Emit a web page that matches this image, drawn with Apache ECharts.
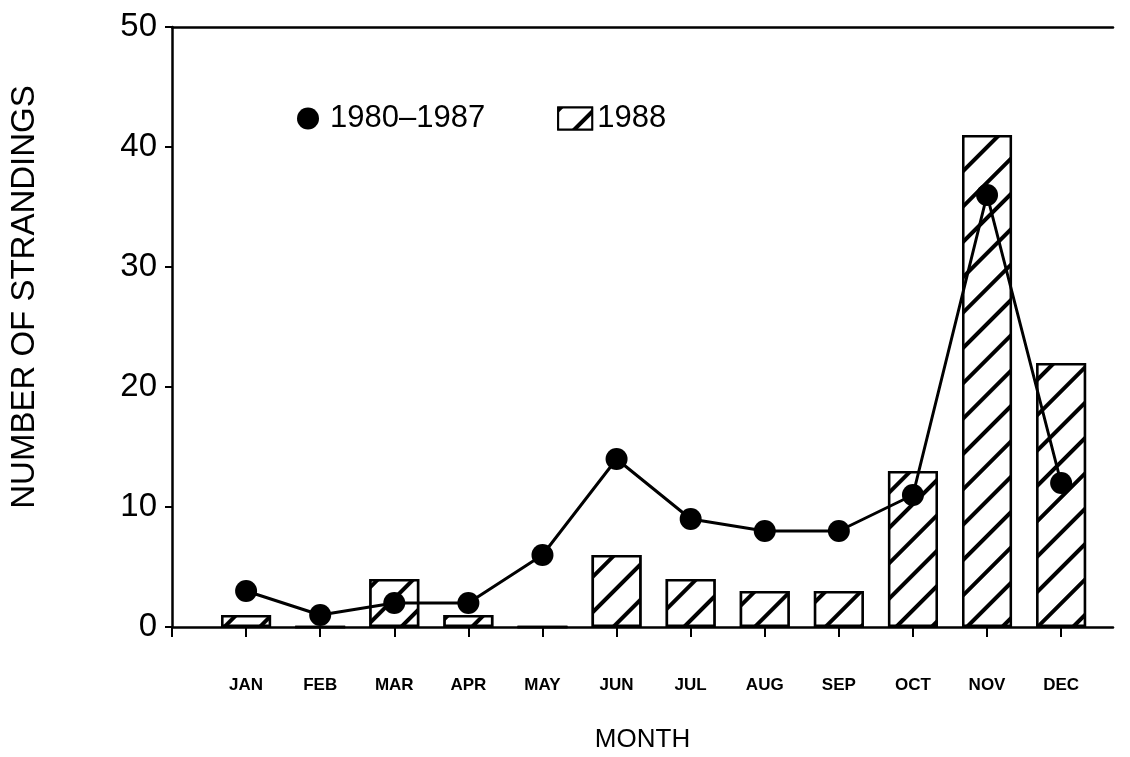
<!DOCTYPE html>
<html>
<head>
<meta charset="utf-8">
<title>Monthly strandings</title>
<script src="https://cdn.jsdelivr.net/npm/echarts@6/dist/echarts.min.js"></script>
<style>
  html, body { margin: 0; padding: 0; background: #fff; }
  #chart { width: 1130px; height: 757px; }
</style>
</head>
<body>
<div id="chart"></div>
<script>
// Month labels along the x axis
const months = ['JAN', 'FEB', 'MAR', 'APR', 'MAY', 'JUN', 'JUL', 'AUG', 'SEP', 'OCT', 'NOV', 'DEC'];
// Strandings per month, 1980-1987 (points + line)
const strandings1980to1987 = [3, 1, 2, 2, 6, 14, 9, 8, 8, 11, 36, 12];
// Strandings per month, 1988 (hatched bars)
const strandings1988 = [1, 0, 4, 1, 0, 6, 4, 3, 3, 13, 41, 22];
// Y axis tick values
const yTicks = [0, 10, 20, 30, 40, 50];

const INK = '#000';
const sans = "'Liberation Sans', Arial, sans-serif";
const narrow = "'Liberation Sans Narrow', 'Arial Narrow', 'Liberation Sans', sans-serif";

// months sit at positions 1..12 on a numeric axis that starts at the y axis
const monthPos = months.map((m, i) => i + 1);

// diagonal "/" hatching used for the 1988 bars
const hatch = {
  symbol: 'rect',
  symbolSize: 1,
  dashArrayX: [1, 0],
  dashArrayY: [3.5, 20.5],
  rotation: -Math.PI / 4,
  color: INK,
  backgroundColor: '#fff'
};

const chart = echarts.init(document.getElementById('chart'), null, { renderer: 'canvas' });

chart.setOption({
  backgroundColor: '#fff',
  animation: false,
  grid: { left: 172, right: 17, top: 27, bottom: 130, containLabel: false, outerBoundsMode: 'none' },
  legend: {
    left: 292,
    top: 98,
    itemGap: 72,
    itemWidth: 34,
    itemHeight: 22,
    textStyle: { fontFamily: sans, fontSize: 31, color: INK },
    data: [
      { name: '1980–1987', icon: 'circle', itemStyle: { color: INK } },
      { name: '1988', icon: 'rect' }
    ]
  },
  xAxis: [
    {
      type: 'value',
      min: 0,
      max: 12.7,
      interval: 1,
      name: 'MONTH',
      nameLocation: 'middle',
      nameGap: 100,
      nameTextStyle: { fontFamily: sans, fontSize: 26, color: INK },
      splitLine: { show: false },
      axisLine: { show: true, onZero: false, lineStyle: { color: INK, width: 2.5 } },
      axisTick: {
        show: true, inside: false, length: 10,
        customValues: [0].concat(monthPos),
        lineStyle: { color: INK, width: 2 }
      },
      axisLabel: {
        margin: 50,
        customValues: monthPos,
        formatter: v => months[Math.round(v) - 1] || '',
        fontFamily: narrow, fontWeight: 'bold', fontSize: 17, color: INK
      }
    },
    {
      type: 'value',
      position: 'top',
      min: 0,
      max: 12.7,
      splitLine: { show: false },
      axisLine: { show: true, onZero: false, lineStyle: { color: INK, width: 2.5 } },
      axisTick: { show: false },
      axisLabel: { show: false }
    }
  ],
  yAxis: {
    type: 'value',
    min: yTicks[0],
    max: yTicks[yTicks.length - 1],
    interval: 10,
    name: 'NUMBER OF STRANDINGS',
    nameLocation: 'middle',
    nameGap: 131,
    nameRotate: 90,
    nameTextStyle: { fontFamily: sans, fontSize: 33, color: INK, padding: [0, 0, 0, 60] },
    splitLine: { show: false },
    axisLine: { show: true, onZero: false, lineStyle: { color: INK, width: 2.5 } },
    axisTick: { show: true, inside: false, length: 7, lineStyle: { color: INK, width: 2 } },
    axisLabel: { margin: 15, fontFamily: sans, fontSize: 33, color: INK }
  },
  series: [
    {
      name: '1988',
      type: 'bar',
      xAxisIndex: 0,
      barWidth: 50,
      data: monthPos.map((x, i) => [x, strandings1988[i]]),
      itemStyle: {
        color: '#fff',
        borderColor: INK,
        borderWidth: 2.5,
        decal: hatch
      },
      z: 2
    },
    {
      name: '1980–1987',
      type: 'line',
      xAxisIndex: 0,
      data: monthPos.map((x, i) => [x, strandings1980to1987[i]]),
      symbol: 'circle',
      symbolSize: 22,
      lineStyle: { color: INK, width: 3 },
      itemStyle: { color: INK },
      z: 3
    }
  ]
});
</script>
</body>
</html>
